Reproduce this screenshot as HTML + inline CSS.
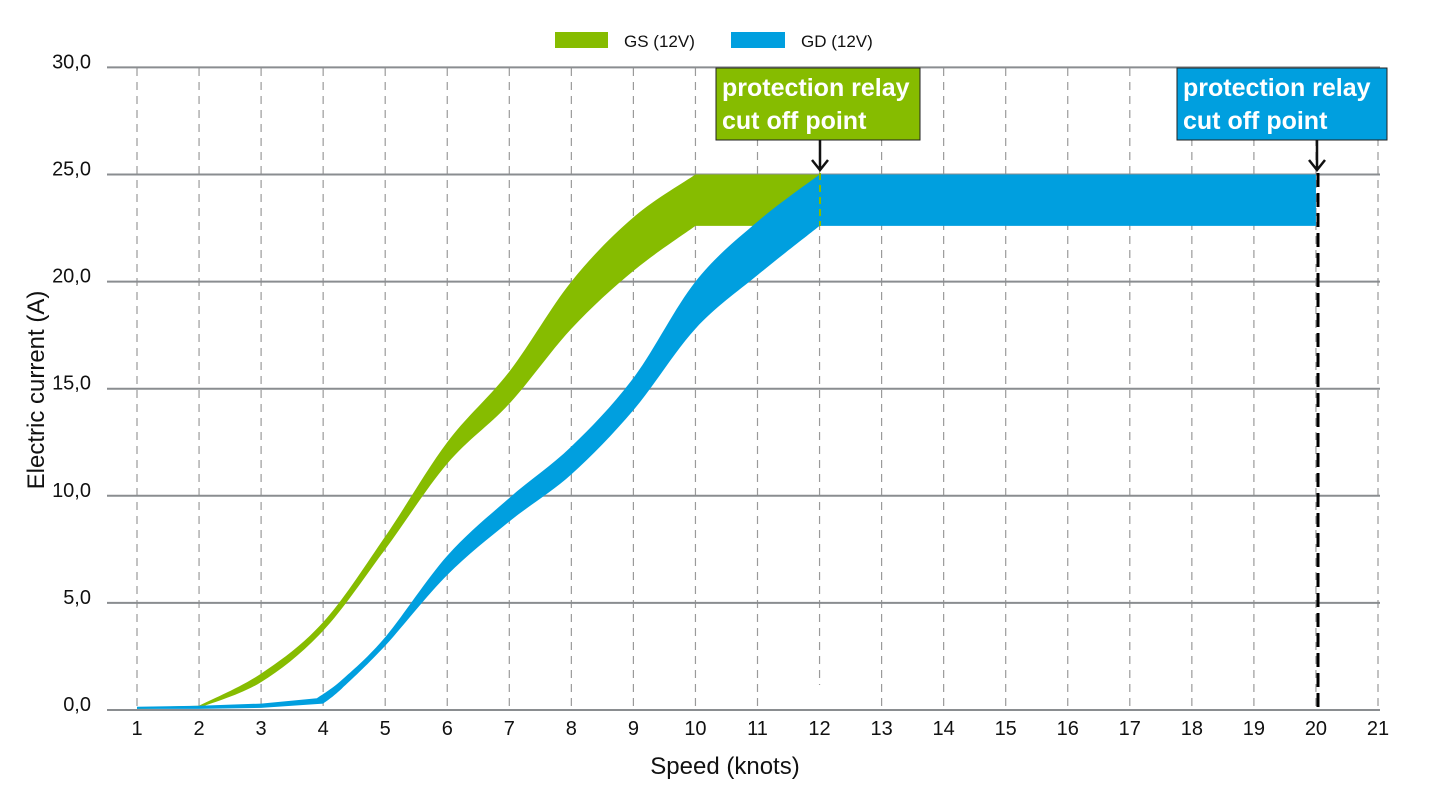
<!DOCTYPE html>
<html><head><meta charset="utf-8"><style>
body{margin:0;background:#fff;}
svg{display:block;font-family:"Liberation Sans",sans-serif;}
</style></head><body>
<svg id="s" width="1445" height="801" viewBox="0 0 1445 801">
<g id="grid"></g>
<path id="gs" fill="#86bc00"/>
<path id="gd" fill="#009fdf"/>
<line x1="820" y1="173" x2="820" y2="226" stroke="#86bc00" stroke-width="2" stroke-dasharray="7,5"/>
<line x1="1318" y1="173" x2="1318" y2="710" stroke="#000" stroke-width="3" stroke-dasharray="14,6"/>
<line x1="107" y1="710" x2="1380" y2="710" stroke="#8a8d90" stroke-width="2"/>
<g font-size="20" fill="#111" text-anchor="end" id="yl"></g>
<g font-size="20" fill="#111" text-anchor="middle" id="xl"></g>
<text x="725" y="774" font-size="24" text-anchor="middle" fill="#111">Speed (knots)</text>
<text transform="translate(44,390) rotate(-90)" font-size="24" text-anchor="middle" fill="#111">Electric current (A)</text>
<rect x="555" y="32" width="53" height="16" fill="#86bc00"/>
<text x="624" y="47" font-size="17" fill="#111">GS (12V)</text>
<rect x="731" y="32" width="54" height="16" fill="#009fdf"/>
<text x="801" y="47" font-size="17" fill="#111">GD (12V)</text>
<rect x="716" y="68" width="204" height="72" fill="#86bc00" stroke="#222" stroke-width="1"/>
<text x="722" y="96" font-size="25" font-weight="bold" fill="#fff">protection relay</text>
<text x="722" y="129" font-size="25" font-weight="bold" fill="#fff">cut off point</text>
<rect x="1177" y="68" width="210" height="72" fill="#009fdf" stroke="#222" stroke-width="1"/>
<text x="1183" y="96" font-size="25" font-weight="bold" fill="#fff">protection relay</text>
<text x="1183" y="129" font-size="25" font-weight="bold" fill="#fff">cut off point</text>
<g stroke="#111" stroke-width="2.5" fill="none">
<path d="M820 140V169M812 160L820 170L828 160"/>
<path d="M1317 140V169M1309 160L1317 170L1325 160"/>
</g>
</svg>
<script>
var X=function(k){return 137+62.05*(k-1)},Y=function(v){return 710-v*21.42};
var ns="http://www.w3.org/2000/svg",g=document.getElementById('grid');
function el(p,t,a,txt){var e=document.createElementNS(ns,t);for(var k in a)e.setAttribute(k,a[k]);if(txt)e.textContent=txt;p.appendChild(e);}
for(var i=1;i<=21;i++){el(g,'line',{x1:X(i),x2:X(i),y1:68,y2:i==12?685:710,stroke:'#9a9a9a','stroke-width':1.2,'stroke-dasharray':'8,6'});
el(document.getElementById('xl'),'text',{x:X(i),y:735},String(i));}
for(var v=0;v<=30;v+=5){el(g,'line',{x1:107,x2:1380,y1:Y(v),y2:Y(v),stroke:'#8a8d90','stroke-width':2});
el(document.getElementById('yl'),'text',{x:91,y:Y(v)+1},v+',0');}
function cr(pts){var s='';for(var i=0;i<pts.length-1;i++){var p0=pts[i-1]||pts[i],p1=pts[i],p2=pts[i+1],p3=pts[i+2]||p2;
var c1=[p1[0]+(p2[0]-p0[0])/6,p1[1]+(p2[1]-p0[1])/6],c2=[p2[0]-(p3[0]-p1[0])/6,p2[1]-(p3[1]-p1[1])/6];
s+=' C'+c1+' '+c2+' '+p2;}return s;}
function P(a){return a.map(function(p){return[X(p[0]),Y(p[1])]})}
// segs: [type, pts]; 'L' straight, 'C' curve; first point of each seg continues from previous end
function path(segs){var s='';segs.forEach(function(sg,idx){var p=P(sg[1]);
if(idx==0)s+='M'+p[0];else s+=' L'+p[0];
if(sg[0]=='C')s+=cr(p);else for(var i=1;i<p.length;i++)s+=' L'+p[i];});return s+'Z';}
document.getElementById('gs').setAttribute('d',path([
['L',[[1,0.12],[2,0.2]]],
['C',[[2,0.2],[3,1.7],[4,4.1],[5,8.1],[6,12.5],[7,15.8],[8,20],[9,23],[10,25]]],
['L',[[10,25],[12,25],[12,22.6],[10,22.6]]],
['C',[[10,22.6],[9,20.5],[8,17.8],[7,14.3],[6,11.5],[5,7.5],[4,3.7],[3,1.3],[2,0.1]]],
['L',[[2,0.1],[1,0.05]]]]));
document.getElementById('gd').setAttribute('d',path([
['L',[[1,0.15],[2,0.2],[3,0.3],[3.9,0.55]]],
['C',[[3.9,0.55],[4.3,1.4],[5,3.4],[6,7.2],[7,9.9],[8,12.3],[9,15.5],[10,20],[11,22.8],[12,25]]],
['L',[[12,25],[20,25],[20,22.6],[12,22.6]]],
['C',[[12,22.6],[11,20.3],[10,17.8],[9,14],[8,11],[7,8.8],[6,6.3],[5,3.0],[4.3,1.0],[4,0.3]]],
['L',[[4,0.3],[3,0.1],[2,0.05],[1,0.05]]]]));
</script>
</body></html>
